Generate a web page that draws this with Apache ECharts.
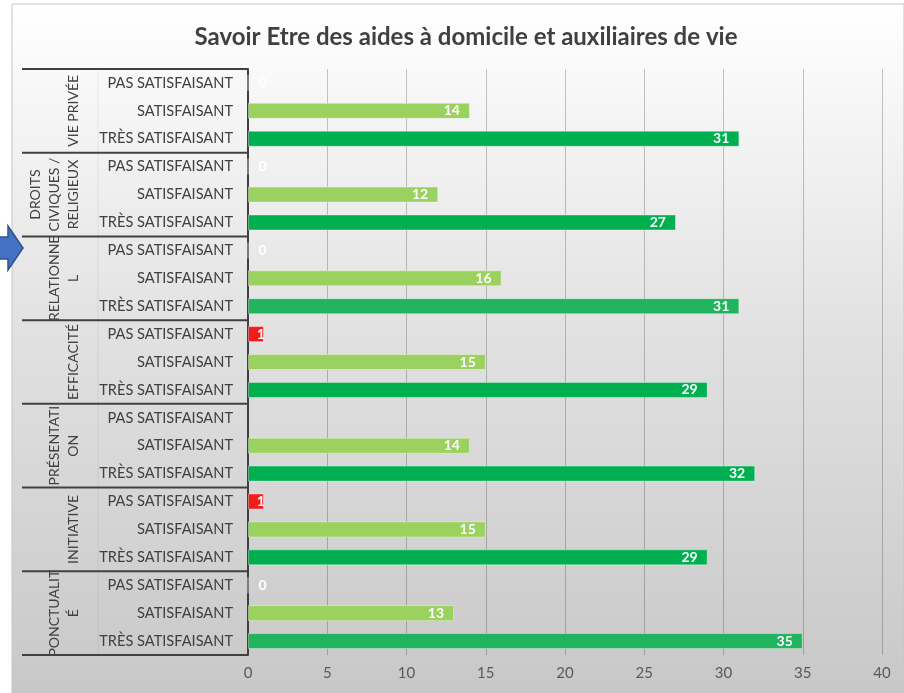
<!DOCTYPE html>
<html><head><meta charset="utf-8">
<script src="https://cdn.jsdelivr.net/npm/echarts@6/dist/echarts.min.js"></script>
<style>html,body{margin:0;padding:0;background:#fff}#c{width:904px;height:693px}</style>
</head><body><div id="c"></div>
<script>
// ---- data ----
const groups = ['VIE PRIVÉE', 'DROITS\nCIVIQUES /\nRELIGIEUX', 'RELATIONNE\nL', 'EFFICACITÉ', 'PRÉSENTATI\nON', 'INITIATIVE', 'PONCTUALIT\nÉ'];
const ratings = ['PAS SATISFAISANT', 'SATISFAISANT', 'TRÈS SATISFAISANT'];
const pasSatisfaisant = [0, 0, 0, 1, null, 1, 0];
const satisfaisant = [14, 12, 16, 15, 14, 15, 13];
const tresSatisfaisant = [31, 27, 31, 29, 32, 29, 35];
const xTickLabels = [0, 5, 10, 15, 20, 25, 30, 35, 40];

// ---- styles (kept separate) ----
const ratingColors = ['#f21c1c', '#9bd15f', '#00b050'];
const tresOverride = {2: '#22b35f', 6: '#22b35f'};
const FONT = 'Lato';

const categories = [];
const barData = [];
groups.forEach((g, gi) => {
  const vals = [pasSatisfaisant[gi], satisfaisant[gi], tresSatisfaisant[gi]];
  ratings.forEach((r, ri) => {
    categories.push(gi + '|' + r);
    const v = vals[ri];
    let color = ratingColors[ri];
    if (ri === 2 && tresOverride[gi]) color = tresOverride[gi];
    const item = {value: v, itemStyle: {color: color}};
    if (v === 0) item.label = {position: 'right', distance: 10};
    else if (v !== null && v < 3) item.label = {position: 'insideRight', distance: -1};
    barData.push(item);
  });
});

const chart = echarts.init(document.getElementById('c'), null, {renderer: 'canvas'});
const option = {
  backgroundColor: '#ffffff',
  animation: false,
  title: {
    text: 'Savoir Etre des aides à domicile et auxiliaires de vie',
    left: 461, top: 20, textAlign: 'center',
    textStyle: {fontFamily: FONT, fontSize: 24, fontWeight: 'bold', color: '#404040'}
  },
  grid: {left: 248, right: 22, top: 69, bottom: 38, containLabel: false},
  xAxis: {
    type: 'value', min: 0, max: 40, interval: 5,
    axisLine: {show: false}, axisTick: {show: false},
    splitLine: {show: true, lineStyle: {color: 'rgba(0,0,0,0.22)', width: 1}},
    axisLabel: {margin: 11, color: '#595959', fontFamily: FONT, fontSize: 15,
      formatter: (v) => String(xTickLabels[xTickLabels.indexOf(v)])}
  },
  yAxis: {
    type: 'category', data: categories, inverse: true,
    axisLine: {show: true, lineStyle: {color: '#404040', width: 2}},
    axisTick: {show: false},
    axisLabel: {margin: 15, color: '#404040', fontFamily: FONT, fontSize: 14.6,
      formatter: (v) => v.split('|')[1]}
  },
  series: [{
    type: 'bar', data: barData, barWidth: 16, z: 3,
    itemStyle: {borderColor: 'rgba(255,255,255,0.35)', borderWidth: 1},
    label: {show: true, position: 'insideRight', distance: 10, color: '#ffffff',
      fontFamily: FONT, fontWeight: 'bold', fontSize: 14, formatter: (p) => p.value}
  }]
};
chart.setOption(option);

// decorations computed from the axis scale
const yOf = (i) => chart.convertToPixel({yAxisIndex: 0}, categories[i]);
const band = yOf(1) - yOf(0);
const xLeft = 22, xAxisPx = chart.convertToPixel({xAxisIndex: 0}, 0);
const graphics = [];
graphics.push({type: 'rect', z: -10, silent: true,
  shape: {x: 12, y: 4, width: 904 - 12, height: 693 - 4},
  style: {fill: new echarts.graphic.LinearGradient(0, 0, 0, 1, [
    {offset: 0, color: '#ffffff'}, {offset: 0.5, color: '#e0e0e0'}, {offset: 1, color: '#c8c8c8'}]),
    stroke: '#c4c4c4', lineWidth: 1}});
graphics.push({type: 'line', z: -5, silent: true,
  shape: {x1: 98, y1: yOf(0) - band / 2, x2: 98, y2: yOf(categories.length - 1) + band / 2},
  style: {stroke: 'rgba(0,0,0,0.06)', lineWidth: 1}});
for (let gi = 0; gi <= groups.length; gi++) {
  const y = gi < groups.length ? yOf(gi * 3) - band / 2 : yOf(gi * 3 - 1) + band / 2;
  graphics.push({type: 'line', z: 10, silent: true,
    shape: {x1: xLeft, y1: y, x2: xAxisPx, y2: y},
    style: {stroke: '#404040', lineWidth: 2}});
}
groups.forEach((g, gi) => {
  const yc = yOf(gi * 3 + 1);
  graphics.push({type: 'text', z: 10, silent: true, x: 83, y: yc, rotation: Math.PI / 2,
    style: {text: g, fill: '#404040', font: '14px ' + FONT, textAlign: 'center', textVerticalAlign: 'bottom', lineHeight: 19}});
});
graphics.push({type: 'polygon', z: 20, silent: true,
  shape: {points: [[-10, 237], [8, 237], [8, 226], [23, 248], [8, 270], [8, 259], [-10, 259]]},
  style: {fill: '#4472c4', stroke: '#2f528f', lineWidth: 1.5}});
chart.setOption({graphic: graphics});
</script>
</body></html>
